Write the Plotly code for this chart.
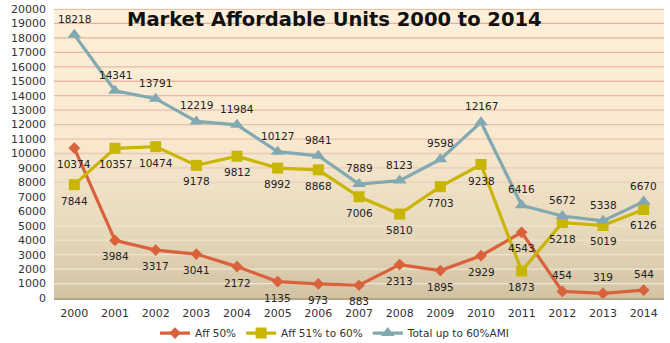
import plotly.graph_objects as go

years = [str(y) for y in range(2000, 2015)]
aff_50 = [10374, 3984, 3317, 3041, 2172, 1135, 973, 883, 2313, 1895, 2929, 4543, 454, 319, 544]
aff_51_60 = [7844, 10357, 10474, 9178, 9812, 8992, 8868, 7006, 5810, 7703, 9238, 1873, 5218, 5019, 6126]
total_60 = [18218, 14341, 13791, 12219, 11984, 10127, 9841, 7889, 8123, 9598, 12167, 6416, 5672, 5338, 6670]
y_ticks = list(range(0, 20001, 1000))

# label side per point: +1 above, -1 below
aff_50_side = [-1] * 12 + [1, 1, 1]
aff_51_60_side = [-1] * 15
total_side = [1] * 15

RED = "#d9623c"
YELLOW = "#c9b504"
TEAL = "#82a9b2"
FONT = "DejaVu Sans"


def hex2rgb(h):
    h = h.lstrip("#")
    return tuple(int(h[i:i + 2], 16) for i in (0, 2, 4))


def mix(stops, t):
    for (t0, c0), (t1, c1) in zip(stops, stops[1:]):
        if t0 <= t <= t1:
            f = (t - t0) / (t1 - t0) if t1 > t0 else 0
            a, b = hex2rgb(c0), hex2rgb(c1)
            return "rgb(%d,%d,%d)" % tuple(round(a[i] + (b[i] - a[i]) * f) for i in range(3))
    return stops[-1][1]


fig = go.Figure()

series = [
    ("Aff 50%", aff_50, RED, "diamond", 9, aff_50_side),
    ("Aff 51% to 60%", aff_51_60, YELLOW, "square", 11, aff_51_60_side),
    ("Total up to 60%AMI", total_60, TEAL, "triangle-up", 12, total_side),
]

annotations = []
for name, vals, color, sym, msize, sides in series:
    fig.add_trace(go.Scatter(
        x=years, y=vals, name=name, mode="lines+markers",
        line=dict(color=color, width=3.2),
        marker=dict(symbol=sym, size=msize, color=color),
        cliponaxis=False,
    ))
    for i, (v, s) in enumerate(zip(vals, sides)):
        # category axis: position i is the i-th year
        annotations.append(dict(
            x=i, y=v, xref="x", yref="y", text=str(v), showarrow=False,
            yshift=16 * s, xanchor="center", yanchor="middle",
            font=dict(family=FONT, size=10.5, color="#222222"),
        ))

annotations.append(dict(
    x=0.5, y=1.0, xref="paper", yref="paper", xanchor="center", yanchor="top",
    xshift=-25, yshift=3,
    text="<b>Market Affordable Units 2000 to 2014</b>", showarrow=False,
    font=dict(family=FONT, size=19.5, color="#111111"),
))

# background gradient, cream at the top to tan at the bottom
bg_stops = [(0.0, "#fdefd9"), (0.45, "#f8e9cf"), (0.75, "#e8dabd"), (1.0, "#d2c3a3")]
shapes = []
n = 80
for i in range(n):
    t = (i + 0.5) / n
    shapes.append(dict(
        type="rect", xref="paper", yref="paper", x0=0, x1=1,
        y0=1 - (i + 1) / n, y1=1 - i / n + 0.002,
        fillcolor=mix(bg_stops, t), line=dict(width=0), layer="below",
    ))

# horizontal gridlines, pink near the top fading to pale near the bottom
grid_stops = [(0.0, "#e4ad9a"), (0.45, "#eac2b0"), (0.75, "#efe1cc"), (1.0, "#f1e9d8")]
for v in y_ticks[1:]:
    t = 1 - v / 20000
    shapes.append(dict(
        type="line", xref="paper", yref="y", x0=0, x1=1, y0=v, y1=v,
        line=dict(color=mix(grid_stops, t), width=1.3), layer="below",
    ))

fig.update_layout(
    width=670, height=343,
    margin=dict(l=54, r=6, t=9, b=45, autoexpand=False),
    paper_bgcolor="white",
    plot_bgcolor="#fdefd9",
    font=dict(family=FONT, size=11, color="#333333"),
    shapes=shapes,
    annotations=annotations,
    showlegend=True,
    legend=dict(
        orientation="h", xref="container", x=0.5, xanchor="center",
        yref="container", y=0.029, yanchor="middle",
        font=dict(family=FONT, size=10.5, color="#333333"),
        bgcolor="rgba(0,0,0,0)", itemwidth=30, tracegroupgap=0,
    ),
    xaxis=dict(
        type="category", range=[-0.5, 14.5], showgrid=False,
        showline=True, linecolor="#b3a585", linewidth=2,
        ticks="", ticklabelstandoff=4, automargin=False,
        tickfont=dict(family=FONT, size=11, color="#333333"),
        fixedrange=True,
    ),
    yaxis=dict(
        range=[0, 20000], tickvals=y_ticks, ticktext=[str(v) for v in y_ticks],
        showgrid=False, zeroline=False, showline=False, ticks="",
        ticklabelstandoff=7, automargin=False,
        tickfont=dict(family=FONT, size=11, color="#333333"),
        fixedrange=True,
    ),
)

fig.write_html("out.html")
